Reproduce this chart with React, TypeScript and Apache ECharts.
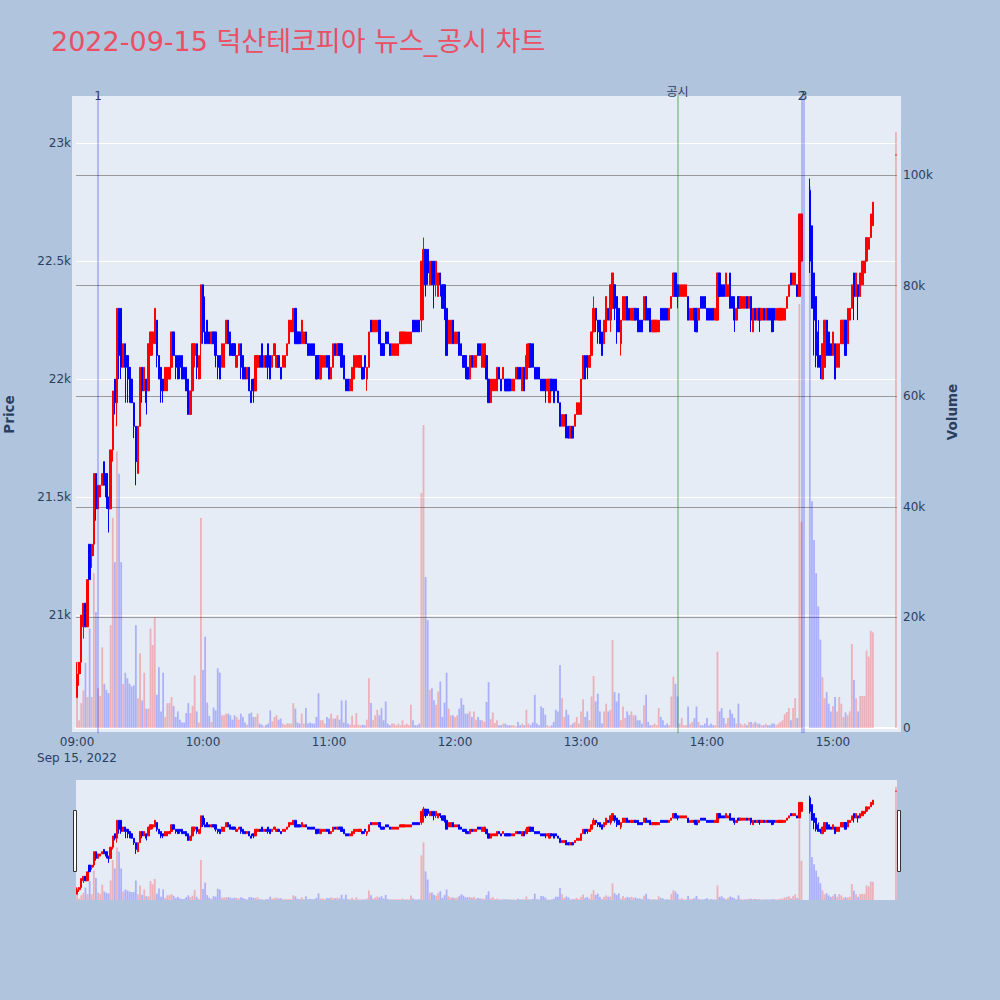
import React, { useEffect, useRef } from 'react';
import * as echarts from 'echarts';

const titleText = '2022-09-15 덕산테코피아 뉴스_공시 차트';
const dateLabel = 'Sep 15, 2022';
const hourTicks = ['09:00', '10:00', '11:00', '12:00', '13:00', '14:00', '15:00'];
const priceTicks = [21000, 21500, 22000, 22500, 23000];
const volumeTicks = [0, 20000, 40000, 60000, 80000, 100000];
const eventLines = [
  { time: '09:10', label: '1', kind: 'news' },
  { time: '13:46', label: '공시', kind: 'notice' },
  { time: '14:45', label: '2', kind: 'news' },
  { time: '14:46', label: '3', kind: 'news' },
];

// one entry per minute, 09:00 ... 15:30 (null = no trade)
const opens = [
  20650, 20750, 20800, 20950, 21050, 20950, 21300, 21250, 21300, 21600,
  21450, 21500, 21550, 21650, 21600, 21500, 21450, 21700, 22000, 21900,
  22300, 22300, 22050, 22150, 22100, 22050, 22000, 21900, 21800, 21600,
  21800, 22050, 21950, 22000, 21950, 22100, 22150, 22150, 22250, 22100,
  22050, 22000, 21950, 21950, 22000, 22050, 22200, 22100, 22100, 22100,
  22100, 22050, 22050, 22000, 21850, 21950, 22100, 22150, 22000, 22150,
  22400, 22200, 22250, 22200, 22150, 22200, 22200, 22100, 22100, 22050,
  22050, 22150, 22250, 22200, 22150, 22150, 22050, 22100, 22150, 22100,
  22050, 22000, 22050, 21950, 22000, 21950, 22050, 22100, 22150, 22050,
  22100, 22150, 22100, 22050, 22100, 22050, 22100, 22050, 22050, 22050,
  22100, 22150, 22200, 22200, 22300, 22200, 22200, 22150, 22150, 22200,
  22150, 22150, 22150, 22150, 22100, 22100, 22000, 22050, 22050, 22100,
  22100, 22000, 22050, 22150, 22100, 22150, 22150, 22100, 22000, 22000,
  21950, 21950, 22000, 22050, 22050, 22050, 22050, 22100, 22000, 22050,
  22250, 22200, 22200, 22200, 22250, 22150, 22150, 22200, 22200, 22150,
  22100, 22100, 22100, 22100, 22150, 22150, 22150, 22150, 22150, 22150,
  22250, 22250, 22250, 22250, 22250, 22450, 22550, 22550, 22400, 22500,
  22500, 22400, 22350, 22450, 22400, 22400, 22300, 22150, 22150, 22250,
  22150, 22150, 22200, 22150, 22100, 22100, 22050, 22000, 22100, 22050,
  22050, 22150, 22150, 22050, 22050, 22100, 22000, 21900, 21950, 21950,
  21950, 22050, 22000, 22000, 22000, 22000, 22000, 21950, 21950, 22000,
  22050, 22050, 21950, 22050, 22000, 22050, 22150, 22150, 22050, 22050,
  22050, 22000, 22000, 22000, 21950, 21900, 22000, 22000, 22000, 21950,
  21900, 21800, 21800, 21850, 21800, 21750, 21800, 21800, 21850, 21850,
  21850, 22000, 22100, 22100, 22050, 22100, 22200, 22300, 22250, 22250,
  22200, 22150, 22200, 22300, 22250, 22300, 22400, 22350, 22300, 22150,
  22250, 22250, 22350, 22300, 22250, 22250, 22300, 22300, 22250, 22250,
  22250, 22350, 22300, 22300, 22200, 22200, 22200, 22200, 22300, 22300,
  22300, 22300, 22250, 22300, 22350, 22450, 22400, 22350, 22350, 22350,
  22350, 22350, 22250, 22250, 22300, 22300, 22250, 22350, 22350, 22350,
  22300, 22300, 22300, 22300, 22250, 22250, 22450, 22400, 22400, 22350,
  22350, 22450, 22350, 22350, 22250, 22350, 22300, 22300, 22300, 22350,
  22300, 22350, 22200, 22300, 22250, 22300, 22250, 22300, 22250, 22300,
  22300, 22300, 22300, 22250, 22250, 22250, 22250, 22250, 22300, 22350,
  22450, 22400, 22400, 22400, 22350, 22500, null, null, null, 22800,
  22650, 22450, 22350, 22200, 22100, 22000, 22050, 22250, 22200, 22150,
  22100, 22150, 22050, 22050, 22150, 22150, 22250, 22150, 22250, 22300,
  22450, 22350, 22400, 22350, 22400, 22450, 22500, 22550, 22600, 22650,
  null, null, null, null, null, null, null, null, null, null,
  22950,
];

const closes = [
  20750, 20800, 21000, 21050, 20950, 21150, 21150, 21300, 21600, 21450,
  21550, 21550, 21600, 21550, 21500, 21450, 21700, 21950, 21900, 22300,
  22100, 22050, 22150, 22050, 22050, 22000, 21900, 21800, 21650, 21800,
  22050, 21950, 22050, 21900, 22150, 22200, 22200, 22300, 22100, 22000,
  21950, 21950, 22050, 22050, 22050, 22200, 22100, 22050, 22000, 22050,
  22000, 22000, 21950, 21850, 21950, 22150, 22150, 22050, 22100, 22400,
  22200, 22150, 22150, 22150, 22200, 22150, 22100, 22050, 22000, 22150,
  22150, 22250, 22150, 22100, 22100, 22100, 22100, 22150, 22050, 22000,
  22000, 22050, 21950, 21900, 21950, 22100, 22100, 22050, 22050, 22100,
  22050, 22050, 22000, 22100, 22150, 22100, 22050, 22000, 22100, 22100,
  22150, 22250, 22250, 22300, 22150, 22150, 22150, 22250, 22200, 22150,
  22100, 22100, 22100, 22100, 22000, 22050, 22100, 22100, 22100, 22050,
  22000, 22050, 22150, 22100, 22150, 22100, 22050, 22000, 21950, 21950,
  22000, 22050, 22100, 22100, 22100, 22100, 22000, 22050, 22050, 22200,
  22200, 22250, 22250, 22250, 22150, 22100, 22100, 22150, 22150, 22100,
  22150, 22150, 22150, 22150, 22200, 22200, 22200, 22200, 22200, 22200,
  22200, 22200, 22200, 22200, 22500, 22550, 22400, 22450, 22500, 22400,
  22400, 22500, 22450, 22400, 22300, 22300, 22100, 22250, 22250, 22150,
  22200, 22200, 22100, 22100, 22050, 22050, 22000, 22100, 22050, 22100,
  22100, 22100, 22100, 22150, 22150, 22000, 21900, 22000, 22000, 22000,
  22050, 22000, 21950, 22050, 21950, 21950, 21950, 22000, 22000, 22050,
  22000, 22000, 22050, 21950, 22100, 22150, 22050, 22050, 22000, 22000,
  22000, 21950, 21950, 21950, 22000, 22000, 21950, 21900, 21950, 21900,
  21800, 21850, 21850, 21750, 21750, 21800, 21750, 21850, 21900, 21900,
  22000, 22100, 22000, 22050, 22100, 22200, 22300, 22250, 22200, 22150,
  22100, 22250, 22350, 22250, 22400, 22450, 22300, 22200, 22200, 22250,
  22350, 22350, 22250, 22250, 22300, 22300, 22250, 22200, 22200, 22200,
  22350, 22250, 22250, 22200, 22250, 22250, 22250, 22250, 22250, 22250,
  22250, 22250, 22300, 22350, 22450, 22350, 22350, 22400, 22400, 22400,
  22400, 22250, 22300, 22300, 22250, 22200, 22300, 22300, 22300, 22300,
  22250, 22250, 22250, 22250, 22300, 22450, 22350, 22350, 22350, 22450,
  22400, 22300, 22300, 22250, 22300, 22300, 22350, 22350, 22350, 22300,
  22350, 22250, 22300, 22250, 22300, 22250, 22300, 22250, 22300, 22250,
  22250, 22200, 22250, 22300, 22300, 22300, 22300, 22300, 22350, 22400,
  22400, 22450, 22450, 22350, 22700, 22700, null, null, null, 22500,
  22300, 22250, 22100, 22050, 22050, 22150, 22250, 22100, 22100, 22100,
  22200, 22000, 22150, 22150, 22250, 22250, 22100, 22300, 22300, 22400,
  22350, 22450, 22350, 22450, 22500, 22500, 22600, 22600, 22700, 22750,
  null, null, null, null, null, null, null, null, null, null,
  22950,
];

const highs = [
  20800, 20800, 21000, 21050, 21050, 21150, 21300, 21300, 21600, 21600,
  21550, 21550, 21600, 21650, 21600, 21500, 21700, 21950, 22000, 22300,
  22300, 22300, 22150, 22150, 22100, 22050, 22000, 21900, 21800, 21800,
  22050, 22050, 22050, 22000, 22150, 22200, 22200, 22300, 22250, 22100,
  22050, 22000, 22050, 22050, 22050, 22200, 22200, 22100, 22100, 22100,
  22100, 22050, 22050, 22000, 21950, 22150, 22150, 22150, 22100, 22400,
  22400, 22350, 22250, 22200, 22200, 22200, 22200, 22100, 22100, 22150,
  22150, 22250, 22250, 22200, 22150, 22150, 22100, 22150, 22150, 22100,
  22050, 22050, 22050, 22000, 22000, 22100, 22100, 22100, 22150, 22100,
  22100, 22150, 22100, 22100, 22150, 22100, 22100, 22050, 22100, 22100,
  22150, 22250, 22250, 22300, 22300, 22200, 22200, 22250, 22200, 22200,
  22150, 22150, 22150, 22150, 22100, 22100, 22100, 22100, 22100, 22100,
  22100, 22050, 22150, 22150, 22150, 22150, 22150, 22100, 22000, 22000,
  22000, 22050, 22100, 22100, 22100, 22100, 22050, 22100, 22050, 22200,
  22250, 22250, 22250, 22250, 22250, 22150, 22150, 22200, 22200, 22150,
  22150, 22150, 22150, 22150, 22200, 22200, 22200, 22200, 22200, 22200,
  22250, 22250, 22250, 22250, 22500, 22600, 22550, 22550, 22500, 22500,
  22500, 22500, 22450, 22450, 22400, 22400, 22300, 22250, 22250, 22250,
  22200, 22200, 22200, 22150, 22100, 22100, 22050, 22100, 22100, 22100,
  22100, 22150, 22150, 22150, 22150, 22100, 22000, 22000, 22000, 22000,
  22050, 22050, 22000, 22050, 22000, 22000, 22000, 22000, 22000, 22050,
  22050, 22050, 22050, 22050, 22150, 22150, 22150, 22150, 22050, 22050,
  22050, 22000, 22000, 22000, 22000, 22000, 22000, 22000, 22000, 21950,
  21900, 21850, 21850, 21850, 21800, 21800, 21800, 21850, 21900, 21900,
  22000, 22100, 22100, 22100, 22100, 22200, 22350, 22300, 22250, 22250,
  22200, 22250, 22350, 22300, 22400, 22450, 22400, 22350, 22300, 22250,
  22350, 22350, 22350, 22300, 22300, 22300, 22300, 22300, 22250, 22250,
  22350, 22350, 22300, 22300, 22250, 22250, 22250, 22250, 22300, 22300,
  22300, 22300, 22300, 22350, 22450, 22450, 22400, 22400, 22400, 22400,
  22400, 22350, 22300, 22300, 22300, 22300, 22300, 22350, 22350, 22350,
  22300, 22300, 22300, 22300, 22300, 22450, 22450, 22400, 22400, 22450,
  22400, 22450, 22350, 22350, 22300, 22350, 22350, 22350, 22350, 22350,
  22350, 22350, 22300, 22300, 22300, 22300, 22300, 22300, 22300, 22300,
  22300, 22300, 22300, 22300, 22300, 22300, 22300, 22300, 22350, 22400,
  22450, 22450, 22450, 22400, 22700, 22700, null, null, null, 22850,
  22650, 22450, 22350, 22250, 22100, 22150, 22250, 22250, 22200, 22150,
  22200, 22150, 22150, 22150, 22250, 22250, 22250, 22300, 22300, 22400,
  22450, 22450, 22400, 22450, 22500, 22500, 22600, 22600, 22700, 22750,
  null, null, null, null, null, null, null, null, null, null,
  22950,
];

const lows = [
  20650, 20700, 20750, 20900, 20950, 20950, 21150, 21200, 21250, 21400,
  21450, 21500, 21550, 21550, 21450, 21350, 21450, 21650, 21850, 21800,
  22000, 22000, 22050, 21900, 21900, 21900, 21900, 21750, 21550, 21600,
  21800, 21900, 21950, 21850, 21950, 22100, 22100, 22150, 22050, 22000,
  21900, 21900, 21950, 21950, 22000, 22050, 22100, 22000, 22000, 22000,
  22000, 22000, 21950, 21850, 21850, 21950, 22050, 22000, 22000, 22000,
  22150, 22150, 22150, 22150, 22150, 22150, 22050, 22000, 22000, 22050,
  22050, 22150, 22150, 22100, 22100, 22100, 22050, 22100, 22000, 22000,
  22000, 22000, 21950, 21900, 21900, 21950, 22050, 22050, 22050, 22050,
  22050, 22000, 22000, 22050, 22100, 22050, 22050, 22000, 22050, 22050,
  22100, 22150, 22200, 22200, 22150, 22150, 22150, 22150, 22150, 22150,
  22100, 22100, 22100, 22100, 22000, 22000, 22000, 22050, 22050, 22050,
  22000, 22000, 22050, 22100, 22100, 22100, 22050, 22000, 21950, 21950,
  21950, 21950, 22000, 22050, 22050, 22050, 22000, 22000, 21950, 22050,
  22200, 22200, 22200, 22200, 22150, 22100, 22100, 22150, 22150, 22100,
  22100, 22100, 22100, 22100, 22150, 22150, 22150, 22150, 22150, 22150,
  22200, 22200, 22200, 22200, 22200, 22250, 22350, 22400, 22400, 22400,
  22300, 22350, 22350, 22350, 22300, 22250, 22100, 22150, 22150, 22150,
  22150, 22150, 22100, 22100, 22050, 22000, 22000, 22000, 22050, 22050,
  22050, 22100, 22100, 22050, 22050, 22000, 21900, 21900, 21950, 21950,
  21950, 22000, 21950, 22000, 21950, 21950, 21950, 21950, 21950, 22000,
  22000, 22000, 21950, 21950, 22000, 22050, 22050, 22050, 22000, 22000,
  22000, 21950, 21950, 21900, 21950, 21900, 21950, 21900, 21950, 21900,
  21800, 21800, 21800, 21750, 21750, 21750, 21750, 21800, 21850, 21850,
  21850, 22000, 22000, 22000, 22050, 22100, 22200, 22200, 22150, 22150,
  22100, 22150, 22200, 22250, 22200, 22300, 22250, 22150, 22200, 22100,
  22250, 22250, 22250, 22250, 22250, 22250, 22250, 22200, 22200, 22200,
  22250, 22250, 22250, 22200, 22200, 22200, 22200, 22200, 22250, 22250,
  22250, 22250, 22250, 22300, 22350, 22350, 22300, 22350, 22350, 22350,
  22350, 22250, 22250, 22250, 22200, 22200, 22250, 22300, 22300, 22300,
  22250, 22250, 22250, 22250, 22250, 22250, 22350, 22350, 22350, 22350,
  22350, 22300, 22300, 22200, 22250, 22300, 22300, 22300, 22300, 22300,
  22300, 22200, 22200, 22250, 22250, 22200, 22250, 22250, 22250, 22250,
  22250, 22200, 22200, 22250, 22250, 22250, 22250, 22250, 22300, 22350,
  22400, 22400, 22400, 22350, 22350, 22500, null, null, null, 22450,
  22300, 22100, 22050, 22050, 22000, 22000, 22050, 22100, 22100, 22100,
  22100, 22000, 22050, 22050, 22150, 22150, 22100, 22150, 22250, 22300,
  22250, 22350, 22250, 22350, 22400, 22450, 22500, 22550, 22600, 22650,
  null, null, null, null, null, null, null, null, null, null,
  22950,
];

const volumes = [
  12000, 1400, 4500, 6800, 11800, 5600, 18000, 5600, 28000, 21000,
  7200, 5800, 14600, 8000, 6900, 6300, 18600, 38000, 30000, 50000,
  46000, 30000, 8000, 10000, 9000, 8000, 7500, 7700, 18600, 5400,
  13500, 5000, 10000, 3500, 3500, 18000, 15000, 20000, 6000, 11000,
  3000, 10000, 2000, 4500, 4500, 5600, 4000, 2000, 3000, 1500,
  1000, 1000, 2700, 4500, 2700, 4000, 9500, 3000, 1000, 38000,
  10500, 16500, 4600, 2200, 1100, 3700, 3200, 10800, 10000, 2300,
  2300, 2600, 2600, 2300, 1500, 2300, 2000, 1500, 2600, 2000,
  1000, 600, 2600, 2800, 2000, 2000, 2600, 800, 600, 300,
  600, 800, 3200, 1200, 2000, 2300, 1500, 1700, 800, 600,
  800, 800, 800, 4500, 3500, 1000, 800, 2600, 800, 3600,
  800, 1000, 800, 800, 2000, 6300, 1400, 1400, 800, 2000,
  1700, 2600, 1700, 1700, 2300, 1500, 5000, 1000, 5000, 800,
  600, 2200, 600, 2700, 600, 500, 600, 500, 1500, 9000,
  4500, 1400, 2300, 3300, 2300, 3600, 1400, 4800, 800, 500,
  800, 800, 500, 800, 500, 1400, 500, 800, 500, 4200,
  1400, 500, 500, 800, 42500, 54800, 27300, 19500, 6900, 7200,
  5000, 4200, 6600, 8400, 2000, 4600, 10000, 3500, 2300, 2300,
  2000, 2300, 3500, 5400, 4200, 2600, 2600, 3000, 2000, 3000,
  1500, 2000, 1400, 1400, 1100, 4700, 8300, 1600, 2800, 900,
  1400, 500, 500, 800, 800, 500, 500, 500, 500, 300,
  1100, 500, 800, 500, 3300, 800, 500, 1000, 6000, 800,
  500, 3900, 3600, 2400, 500, 300, 500, 1100, 3300, 3000,
  11400, 5400, 2000, 3300, 2400, 500, 800, 1100, 2000, 800,
  3000, 5200, 2000, 3000, 1400, 5700, 9400, 4800, 6200, 3000,
  800, 3000, 4400, 3000, 3300, 15900, 6500, 4800, 6300, 1400,
  3900, 1800, 3000, 2300, 3000, 2300, 2300, 1400, 1400, 800,
  4100, 6000, 1100, 500, 500, 800, 500, 3600, 2000, 1400,
  500, 800, 500, 5700, 9300, 8000, 5700, 800, 1800, 500,
  500, 3900, 800, 1100, 1800, 3900, 1100, 500, 500, 800,
  1800, 500, 800, 500, 500, 13800, 3000, 3600, 1800, 800,
  1800, 3300, 2600, 1800, 800, 4400, 800, 500, 800, 500,
  1100, 1100, 800, 1100, 800, 800, 500, 500, 800, 500,
  500, 800, 800, 500, 800, 1100, 1400, 2500, 2900, 3600,
  1400, 3600, 5400, 1800, 76700, 37300, null, null, null, 98000,
  41000, 34000, 28000, 22000, 16000, 9200, 5400, 6500, 4400, 3000,
  4000, 5600, 3000, 5600, 4400, 2000, 2800, 2300, 3000, 15200,
  8700, 5400, 3000, 5800, 5800, 5800, 14000, 12900, 17600, 17300,
  null, null, null, null, null, null, null, null, null, null,
  107800,
];

const UP = '#ff0000';
const DOWN = '#0000ff';
const UP_VOL = 'rgba(255,0,0,0.25)';
const DOWN_VOL = 'rgba(0,0,255,0.25)';
const FONT = "'DejaVu Sans', 'Noto Sans CJK KR', sans-serif";
const INK = '#2a3f5f';

function buildOption() {
  const minutes: string[] = [];
  for (let i = 0; i < opens.length; i++) {
    const h = 9 + Math.floor(i / 60);
    const m = i % 60;
    minutes.push(String(h).padStart(2, '0') + ':' + String(m).padStart(2, '0'));
  }
  let prevClose: number | null = null;
  const dirs: (boolean | null)[] = opens.map((o, i) => {
    const c = closes[i];
    if (o == null || c == null) return null;
    const up = c > o || (c === o && (prevClose == null || c >= prevClose));
    prevClose = c;
    return up;
  });
  const candleData = opens.map((o, i) => {
    if (o == null) return ['-', '-', '-', '-'];
    const col = dirs[i] ? UP : DOWN;
    return {
      value: [o, closes[i], lows[i], highs[i]],
      itemStyle: { color: col, color0: col, borderColor: col, borderColor0: col },
    };
  });
  const volData = volumes.map((v, i) => {
    if (v == null) return '-';
    return { value: v, itemStyle: { color: dirs[i] ? UP_VOL : DOWN_VOL } };
  });

  const plotL = 76;
  const plotW = 821;

  const xBase = (gridIndex: number, extra: any = {}) => ({
    type: 'category',
    gridIndex,
    data: minutes,
    boundaryGap: true,
    axisTick: { show: false },
    axisLine: { show: false },
    axisLabel: { show: false },
    splitLine: { show: false },
    ...extra,
  });

  const eventStyle = (kind: string) =>
    kind === 'notice'
      ? { color: 'rgba(0,128,0,0.3)', width: 2, type: 'solid' }
      : { color: 'rgba(0,0,255,0.3)', width: 1.5, type: 'solid' };

  const gridBase = { containLabel: false, outerBoundsMode: 'none' };

  return {
    animation: false,
    backgroundColor: '#B0C4DE',
    textStyle: { fontFamily: FONT },
    title: {
      text: titleText,
      left: 51,
      top: 28,
      padding: 0,
      textStyle: { color: '#EA4F63', fontSize: 27, fontWeight: 'normal', fontFamily: FONT },
    },
    graphic: [
      { type: 'rect', z: -10, silent: true, shape: { x: 72, y: 96, width: 829, height: 636 }, style: { fill: '#E5ECF6' } },
      { type: 'rect', z: -10, silent: true, shape: { x: 76, y: 780, width: 821, height: 120 }, style: { fill: '#E5ECF6' } },
      { type: 'rect', z: 50, silent: true, shape: { x: 73.5, y: 810.5, width: 3, height: 61 }, style: { fill: '#ffffff', stroke: '#333333', lineWidth: 1 } },
      { type: 'rect', z: 50, silent: true, shape: { x: 897.5, y: 810.5, width: 3, height: 61 }, style: { fill: '#ffffff', stroke: '#333333', lineWidth: 1 } },
      { type: 'text', silent: true, x: 77, y: 758, style: { text: dateLabel, fill: INK, font: `12px ${FONT}`, align: 'center', verticalAlign: 'middle' } },
    ],
    grid: [
      { ...gridBase, left: plotL, width: plotW, top: 96, height: 637 },
      { ...gridBase, left: plotL, width: plotW, top: 96, height: 632 },
      { ...gridBase, left: plotL, width: plotW, top: 780, height: 120 },
      { ...gridBase, left: plotL, width: plotW, top: 780, height: 120 },
    ],
    xAxis: [
      xBase(0, {
        axisLabel: {
          show: true,
          color: INK,
          fontSize: 12,
          fontFamily: FONT,
          margin: 3,
          interval: (idx: number, val: string) => hourTicks.indexOf(val) >= 0,
        },
      }),
      xBase(1, { axisLine: { show: true, lineStyle: { color: '#ffffff', width: 2 } } }),
      xBase(2),
      xBase(3),
    ],
    yAxis: [
      {
        type: 'value',
        gridIndex: 0,
        position: 'left',
        min: 20500,
        max: 23200,
        interval: 500,
        name: 'Price',
        nameLocation: 'middle',
        nameRotate: 90,
        nameGap: 60,
        nameTextStyle: { color: INK, fontSize: 13.5, fontWeight: 'bold', fontFamily: FONT },
        axisLine: { show: false },
        axisTick: { show: false },
        axisLabel: {
          color: INK,
          fontSize: 12,
          fontFamily: FONT,
          margin: 5,
          formatter: (v: number) => (priceTicks.indexOf(v) >= 0 ? v / 1000 + 'k' : ''),
        },
        splitLine: { show: true, showMinLine: false, showMaxLine: false, lineStyle: { color: '#ffffff', width: 1 } },
      },
      {
        type: 'value',
        gridIndex: 1,
        position: 'right',
        min: 0,
        max: 114300,
        interval: 20000,
        name: 'Volume',
        nameLocation: 'middle',
        nameRotate: 90,
        nameGap: 48,
        nameTextStyle: { color: INK, fontSize: 13.5, fontWeight: 'bold', fontFamily: FONT },
        axisLine: { show: false },
        axisTick: { show: false },
        axisLabel: {
          color: INK,
          fontSize: 12,
          fontFamily: FONT,
          margin: 6,
          formatter: (v: number) => (volumeTicks.indexOf(v) >= 0 ? (v === 0 ? '0' : v / 1000 + 'k') : ''),
        },
        splitLine: { show: true, showMinLine: false, showMaxLine: false, lineStyle: { color: '#999999', width: 1 } },
      },
      { type: 'value', gridIndex: 2, min: 20521, max: 23199, show: false, splitLine: { show: false } },
      { type: 'value', gridIndex: 3, min: 0, max: 114300, show: false, splitLine: { show: false } },
    ],
    series: [
      {
        type: 'bar',
        name: 'Volume',
        xAxisIndex: 1,
        yAxisIndex: 1,
        data: volData,
        barWidth: 1.8,
        z: 1,
        silent: true,
      },
      {
        type: 'candlestick',
        name: 'Price',
        xAxisIndex: 0,
        yAxisIndex: 0,
        data: candleData,
        barWidth: 1.8,
        large: false,
        z: 3,
        silent: true,
        itemStyle: { color: UP, color0: DOWN, borderColor: UP, borderColor0: DOWN, borderWidth: 1 },
        markLine: {
          silent: true,
          symbol: ['none', 'none'],
          animation: false,
          label: { show: true, position: 'end', color: INK, fontSize: 12, fontFamily: FONT },
          data: eventLines.map((e) => ({
            xAxis: e.time,
            lineStyle: eventStyle(e.kind),
            label: { formatter: e.label, distance: e.kind === 'notice' ? -2 : -6 },
          })),
        },
      },
      {
        type: 'bar',
        name: 'VolumeRange',
        xAxisIndex: 3,
        yAxisIndex: 3,
        data: volData,
        barWidth: 1.8,
        z: 1,
        silent: true,
      },
      {
        type: 'candlestick',
        name: 'PriceRange',
        xAxisIndex: 2,
        yAxisIndex: 2,
        data: candleData,
        barWidth: 1.8,
        large: false,
        z: 3,
        silent: true,
        itemStyle: { color: UP, color0: DOWN, borderColor: UP, borderColor0: DOWN, borderWidth: 1 },
      },
    ],
  };
}

export default function App() {
  const ref = useRef<HTMLDivElement>(null);
  useEffect(() => {
    document.body.style.margin = '0';
    if (!ref.current) return;
    const chart = echarts.init(ref.current, undefined, { renderer: 'svg' });
    chart.setOption(buildOption() as any);
    return () => chart.dispose();
  }, []);
  return <div ref={ref} style={{ width: 1000, height: 1000 }} />;
}
